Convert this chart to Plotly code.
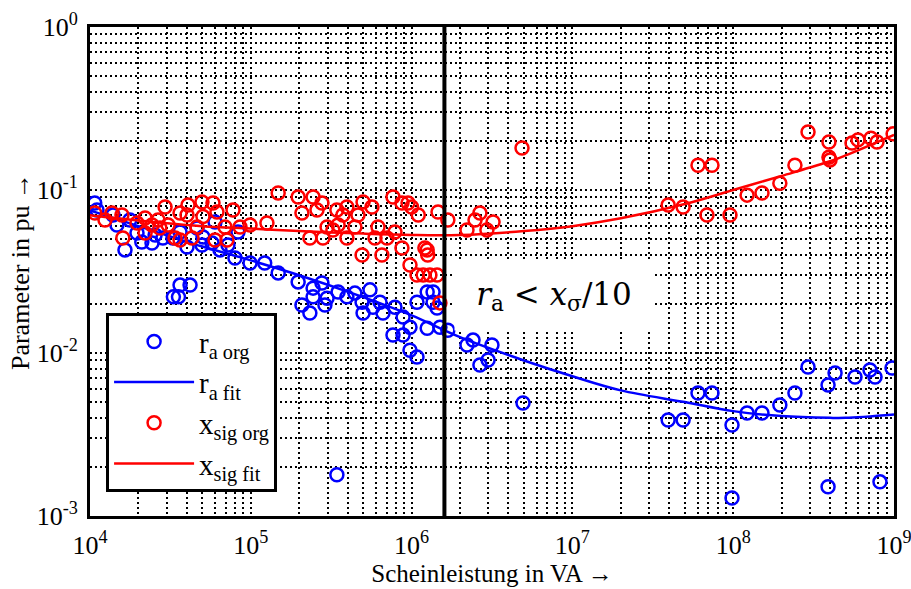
import plotly.graph_objects as go

# ---------------- data ----------------
s_ra_org = [1.07e4, 1.105e4, 1.39e4, 1.47e4, 1.65e4, 1.77e4, 1.96e4, 2.10e4, 2.43e4, 2.54e4,
            2.84e4, 3.28e4, 3.63e4, 4.01e4, 4.63e4, 4.97e4, 5.04e4, 5.74e4, 5.99e4, 6.43e4,
            7.21e4, 7.97e4, 8.32e4, 9.89e4, 1.22e5, 1.48e5, 1.97e5, 2.44e5, 2.77e5, 2.44e5,
            2.98e5, 3.49e5, 3.96e5, 4.44e5, 4.92e5, 5.51e5, 5.75e5, 6.36e5, 6.64e5, 7.88e5,
            8.85e5, 9.77e5, 1.08e6, 1.25e6, 1.36e6, 1.36e6, 1.44e6, 1.50e6, 1.68e6, 7.66e5,
            8.85e5, 9.77e5, 1.08e6, 2.08e5, 2.33e5, 2.89e5, 4.99e5, 3.30e4, 3.55e4, 3.63e4,
            4.19e4, 3.43e5, 1.25e6, 2.21e6, 2.41e6, 3.16e6, 2.66e6, 2.99e6, 4.93e6, 3.94e7,
            4.88e7, 6.04e7, 7.38e7, 9.83e7, 9.83e7, 1.22e8, 1.51e8, 1.95e8, 2.42e8, 2.92e8,
            3.89e8, 4.30e8, 5.72e8, 7.09e8, 7.62e8, 9.72e8, 3.89e8, 8.18e8]
ra_org = [0.0832, 0.0754, 0.0703, 0.0610, 0.0429, 0.0655, 0.0545, 0.0480, 0.0473, 0.0530,
          0.0508, 0.0508, 0.0553, 0.0447, 0.0585, 0.0460, 0.0515, 0.0473, 0.0637, 0.0429,
          0.0460, 0.0383, 0.0553, 0.0357, 0.0357, 0.0310, 0.0273, 0.0250, 0.0269, 0.0221,
          0.0217, 0.0237, 0.0221, 0.0233, 0.0205, 0.0244, 0.0191, 0.0205, 0.0176, 0.0191,
          0.0166, 0.0144, 0.0205, 0.0237, 0.0237, 0.0205, 0.0189, 0.0144, 0.0138, 0.0129,
          0.0129, 0.0104, 0.00945, 0.0197, 0.0176, 0.0197, 0.0176, 0.0221, 0.0221, 0.0261,
          0.0261, 0.00179, 0.0142, 0.0112, 0.0120, 0.0112, 0.00844, 0.00905, 0.00493, 0.00388,
          0.00388, 0.00569, 0.00569, 0.00362, 0.00129, 0.00428, 0.00428, 0.00480, 0.00569, 0.00820,
          0.00637, 0.00754, 0.00713, 0.00787, 0.00713, 0.00809, 0.00151, 0.00162]

s_xs_org = [1.07e4, 1.24e4, 1.37e4, 1.58e4, 1.60e4, 1.96e4, 2.20e4, 2.20e4, 2.43e4, 2.65e4,
            2.72e4, 2.93e4, 3.06e4, 3.38e4, 3.63e4, 3.63e4, 4.01e4, 4.07e4, 4.31e4, 4.63e4,
            4.97e4, 5.04e4, 5.82e4, 5.99e4, 6.16e4, 6.91e4, 7.11e4, 7.75e4, 8.57e4, 9.89e4,
            1.26e5, 1.48e5, 1.97e5, 2.08e5, 2.44e5, 2.58e5, 2.77e5, 2.33e5, 2.81e5, 2.98e5,
            3.24e5, 3.43e5, 3.49e5, 3.74e5, 3.96e5, 3.96e5, 4.44e5, 4.64e5, 4.92e5, 4.99e5,
            5.67e5, 5.92e5, 6.18e5, 6.54e5, 7.03e5, 7.66e5, 7.88e5, 8.71e5, 8.71e5, 9.50e5,
            9.77e5, 1.00e6, 1.08e6, 1.10e6, 1.18e6, 1.21e6, 1.25e6, 1.26e6, 1.30e6, 1.44e6,
            1.46e6, 1.50e6, 1.68e6, 2.21e6, 2.48e6, 2.66e6, 2.94e6, 3.21e6, 4.86e6, 3.94e7,
            4.88e7, 6.04e7, 7.38e7, 6.87e7, 9.55e7, 1.22e8, 1.51e8, 1.95e8, 2.42e8, 2.92e8,
            3.94e8, 3.94e8, 4.00e8, 5.48e8, 5.97e8, 7.19e8, 7.84e8, 9.87e8]
xs_org = [0.0723, 0.0655, 0.0723, 0.0703, 0.0508, 0.0628, 0.0673, 0.0545, 0.0610, 0.0655,
          0.0585, 0.0787, 0.0610, 0.0508, 0.0723, 0.0494, 0.0703, 0.0809, 0.0508, 0.0593,
          0.0844, 0.0688, 0.0832, 0.0494, 0.0733, 0.0593, 0.0494, 0.0754, 0.0593, 0.0610,
          0.0628, 0.0959, 0.0906, 0.0723, 0.0906, 0.0754, 0.0832, 0.0508, 0.0508, 0.0593,
          0.0569, 0.0754, 0.0610, 0.0703, 0.0787, 0.0508, 0.0593, 0.0703, 0.0399, 0.0844,
          0.0787, 0.0508, 0.0593, 0.0399, 0.0508, 0.0906, 0.0553, 0.0441, 0.0832, 0.0832,
          0.0347, 0.0787, 0.0301, 0.0703, 0.0301, 0.0441, 0.0429, 0.0399, 0.0301, 0.0301,
          0.0733, 0.0203, 0.0655, 0.0569, 0.0655, 0.0723, 0.0569, 0.0637, 0.181, 0.0809,
          0.0787, 0.142, 0.142, 0.0703, 0.0703, 0.0930, 0.0959, 0.110, 0.142, 0.227,
          0.197, 0.159, 0.153, 0.194, 0.203, 0.208, 0.197, 0.221]

s_fit = [1e4, 2e4, 5e4, 1e5, 2e5, 5e5, 1e6, 2e6, 5e6, 1e7, 2e7, 5e7, 1e8, 2e8, 4e8, 5e8, 1e9]
ra_fit = [0.075, 0.060, 0.045, 0.037, 0.030, 0.022, 0.017, 0.0125, 0.0090, 0.0072, 0.0059,
          0.0050, 0.0044, 0.0041, 0.0040, 0.0040, 0.0042]
xs_fit = [0.070, 0.065, 0.060, 0.058, 0.056, 0.054, 0.053, 0.053, 0.056, 0.060, 0.067,
          0.082, 0.100, 0.122, 0.150, 0.163, 0.218]

s_limit = 1.6e6  # vertical marker line

x_tick_vals = [m * 10 ** e for e in range(4, 9) for m in range(1, 10)] + [1e9]
x_tick_text = [f"10<sup>{e}</sup>" if m == 1 else "" for e in range(4, 9) for m in range(1, 10)] + ["10<sup>9</sup>"]
y_tick_vals = [m * 10 ** e for e in range(-3, 0) for m in range(1, 10)] + [1.0]
y_tick_text = [f"10<sup>{e}</sup>" if m == 1 else "" for e in range(-3, 0) for m in range(1, 10)] + ["10<sup>0</sup>"]

SERIF = "Liberation Serif"

fig = go.Figure()
fig.add_trace(go.Scatter(x=s_ra_org, y=ra_org, mode="markers", name="r<sub>a org</sub>",
                         marker=dict(symbol="circle-open", size=13, color="#0000ff",
                                     line=dict(width=2.5, color="#0000ff"))))
fig.add_trace(go.Scatter(x=s_fit, y=ra_fit, mode="lines", name="r<sub>a fit</sub>",
                         line=dict(color="#0000ff", width=2.5, shape="spline")))
fig.add_trace(go.Scatter(x=s_xs_org, y=xs_org, mode="markers", name="x<sub>sig org</sub>",
                         marker=dict(symbol="circle-open", size=13, color="#ff0000",
                                     line=dict(width=2.5, color="#ff0000"))))
fig.add_trace(go.Scatter(x=s_fit, y=xs_fit, mode="lines", name="x<sub>sig fit</sub>",
                         line=dict(color="#ff0000", width=2.5, shape="spline")))

fig.add_shape(type="line", xref="x", yref="paper", x0=s_limit, x1=s_limit, y0=0, y1=1,
              line=dict(color="black", width=4), layer="above")

fig.add_annotation(xref="paper", yref="paper", x=0.577, y=0.45,
                   text="<i>r</i><sub>a</sub> &lt; <i>x</i><sub>σ</sub>/10",
                   showarrow=False, bgcolor="white", width=196, height=66,
                   font=dict(family="DejaVu Serif", size=31, color="black"))

grid = dict(showgrid=True, gridcolor="black", gridwidth=2, griddash="2px,3px",
            showline=True, linecolor="black", linewidth=3, mirror=True, ticks="",
            zeroline=False, automargin=False, ticklabeloverflow="allow",
            tickfont=dict(family=SERIF, size=26, color="black"))

fig.update_xaxes(type="log", range=[4, 9], tickmode="array", tickvals=x_tick_vals,
                 ticktext=x_tick_text, ticklabelstandoff=4,
                 title=dict(text="Scheinleistung in VA →", font=dict(family=SERIF, size=25, color="black"),
                            standoff=6),
                 **grid)
fig.update_yaxes(type="log", range=[-3, 0], tickmode="array", tickvals=y_tick_vals,
                 ticktext=y_tick_text, ticklabelstandoff=4,
                 title=dict(text="Parameter in pu →", font=dict(family=SERIF, size=26, color="black"),
                            standoff=0),
                 **grid)

fig.update_layout(
    width=911, height=589,
    margin=dict(l=90, r=17, t=27, b=73),
    paper_bgcolor="white", plot_bgcolor="white",
    showlegend=True,
    legend=dict(x=0.02, y=0.415, xanchor="left", yanchor="top", bgcolor="white",
                bordercolor="black", borderwidth=3,
                font=dict(family=SERIF, size=29, color="black"),
                itemwidth=80, tracegroupgap=0),
)

fig.write_html("out.html", config={"displayModeBar": False},
               post_script="document.body.style.margin='0';document.body.style.overflow='hidden';")
